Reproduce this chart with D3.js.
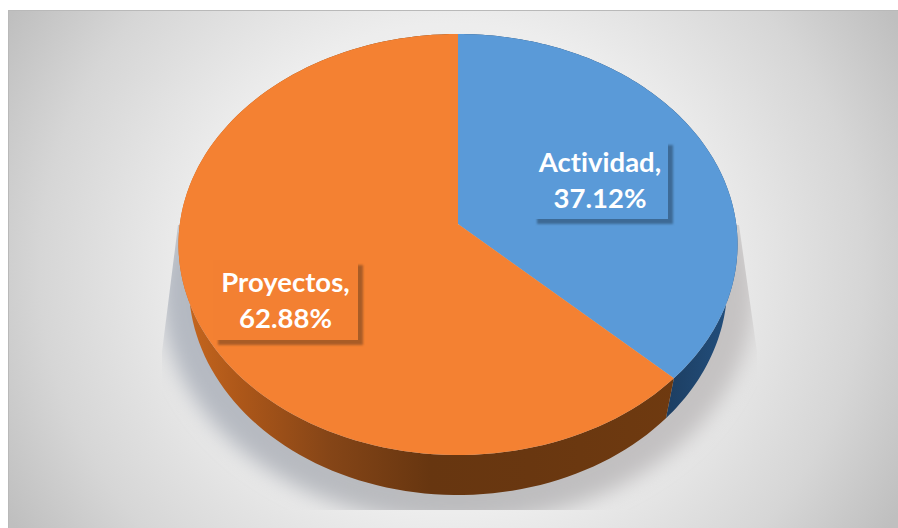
<!DOCTYPE html>
<html>
<head>
<meta charset="utf-8">
<script src="https://cdn.jsdelivr.net/npm/d3@7/dist/d3.min.js"></script>
<style>
html,body{margin:0;padding:0;background:#fff;overflow:hidden}
svg{display:block}
text{font-family:Lato,"Open Sans",sans-serif;font-weight:700;fill:#fff;font-variant-ligatures:none}
</style>
</head>
<body>
<svg id="c" width="898" height="528"></svg>
<script>
const categories = ["Actividad", "Proyectos"];
const percentages = [37.12, 62.88];
const percentLabels = ["37.12%", "62.88%"];

const svg = d3.select("#c");
const defs = svg.append("defs");

// background
const bg = defs.append("radialGradient").attr("id","bg").attr("gradientUnits","userSpaceOnUse")
  .attr("cx",452).attr("cy",268).attr("r",515)
  .attr("gradientTransform","translate(452 268) scale(1 .95) translate(-452 -268)");
[[0,"#f3f3f3"],[.5,"#ededed"],[.8,"#d6d6d6"],[1,"#bfbfbf"]].forEach(s=>bg.append("stop").attr("offset",s[0]).attr("stop-color",s[1]));
svg.append("rect").attr("x",8).attr("y",10).attr("width",890).attr("height",518).attr("fill","url(#bg)");
svg.append("path").attr("d","M8.5 528V10.5H898").attr("fill","none").attr("stroke","#b9b9b9").attr("stroke-width",1);

// projection of the tilted disc
const K = 0.0974;
const project = (A,B,cx,cy) => (a) => {
  const u = Math.sin(a), v = -Math.cos(a), w = 1 - K*v;
  return [cx + A*u/w, cy + B*v/w];
};
const topFace = project(278.2,208.5,458,224);
const baseFace = project(268,208.5,458,264);
const pie = d3.pie().sort(null)(percentages);
const samples = (d) => d3.range(0,121).map(i => d.startAngle + (d.endAngle-d.startAngle)*i/120);
const line = d3.line();

// shadow
defs.append("filter").attr("id","blur").attr("x","-20%").attr("y","-20%").attr("width","140%").attr("height","140%")
  .append("feGaussianBlur").attr("stdDeviation",10);
defs.append("clipPath").attr("id","shClip").append("path")
  .attr("d","M178 225L739 225L757 352L757 510L162 510L162 352Z");
const shadowGrad = defs.append("linearGradient").attr("id","shadowFill").attr("x1",0).attr("x2",1).attr("y1",0).attr("y2",0);
[[0,"#b4b9c2"],[.5,"#bcbcbe"],[1,"#c6c3c3"]].forEach(s=>shadowGrad.append("stop").attr("offset",s[0]).attr("stop-color",s[1]));
svg.append("g").attr("clip-path","url(#shClip)")
  .append("ellipse").attr("cx",458).attr("cy",292).attr("rx",297).attr("ry",232)
  .attr("fill","url(#shadowFill)").attr("filter","url(#blur)");

// rim gradients
const rimStops = [
  [[0,"#23507f"],[1,"#1d3f63"]],
  [[0,"#c8681f"],[.12,"#ad5719"],[.3,"#854517"],[.5,"#673610"],[.7,"#693710"],[1,"#6f3a10"]]
];
rimStops.forEach((stops,i)=>{
  const g = defs.append("linearGradient").attr("id","rim"+i).attr("gradientUnits","userSpaceOnUse")
    .attr("x1", i ? 180 : 735).attr("x2", i ? 680 : 670).attr("y1",0).attr("y2",0);
  stops.forEach(s=>g.append("stop").attr("offset",s[0]).attr("stop-color",s[1]));
});
const topFill = ["#5a9ad8","#f48132"];

svg.append("g").selectAll("path").data(pie).join("path")
  .attr("fill",(d,i)=>`url(#rim${i})`)
  .attr("d",d=>{
    const s = samples(d);
    return line(s.map(topFace).concat(s.slice().reverse().map(baseFace)))+"Z";
  });

svg.append("g").selectAll("path").data(pie).join("path")
  .attr("fill",(d,i)=>topFill[i])
  .attr("d",d=>line([topFace(0).map((v,k)=>k?224:v)].concat(samples(d).map(topFace)))+"Z");

// labels
const labelBoxes = [
  {x:532,y:140,w:136,h:79,fill:"#5a9ad8",sh:"#3d6a96"},
  {x:213,y:260,w:145,h:80,fill:"#f38032",sh:"#a85c26"}
];
defs.append("filter").attr("id","soft").attr("x","-10%").attr("y","-10%").attr("width","120%").attr("height","120%")
  .append("feGaussianBlur").attr("stdDeviation",1);
labelBoxes.forEach((b,i)=>{
  const g = svg.append("g");
  g.append("rect").attr("x",b.x+5).attr("y",b.y+5).attr("width",b.w).attr("height",b.h).attr("fill",b.sh).attr("filter","url(#soft)");
  g.append("rect").attr("x",b.x).attr("y",b.y).attr("width",b.w).attr("height",b.h).attr("fill",b.fill);
  const cx = b.x + b.w/2;
  g.append("text").attr("x",cx).attr("y",b.y+32).attr("text-anchor","middle").attr("font-size",27.5).text(categories[i]+",");
  g.append("text").attr("x",cx).attr("y",b.y+68).attr("text-anchor","middle").attr("font-size",27.5).text(percentLabels[i]);
});
</script>
</body>
</html>
